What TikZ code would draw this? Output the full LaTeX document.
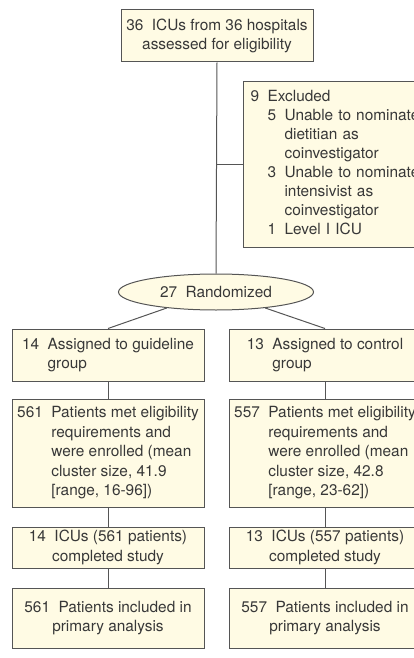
\documentclass[tikz,border=0pt]{standalone}
\usepackage{fontspec}
\setmainfont{TeX Gyre Heros}
\usepackage{xcolor}
\usetikzlibrary{shapes.geometric}
\definecolor{boxfill}{HTML}{FFFBE4}
\definecolor{boxline}{HTML}{555555}
\definecolor{txtgray}{HTML}{383838}
\newcommand{\numgap}{\hspace{0.55em}}

\begin{document}
\begin{tikzpicture}[x=1pt, y=-1pt,
    every node/.style={font=\fontsize{15.4}{19.5}\selectfont, text=txtgray},
    box/.style={draw=boxline, fill=boxfill, line width=1pt, inner sep=0pt, minimum width=192pt},
    link/.style={draw=boxline, line width=1pt}]
  \useasboundingbox (0,0) rectangle (414,658);
  % screening and exclusions
  \node[box, minimum height=52pt] (screen) at (217,36)
    {\begin{tabular}{@{}c@{}}36\numgap ICUs from 36 hospitals\\assessed for eligibility\end{tabular}};
  \node[box, anchor=west, minimum width=190pt, minimum height=165pt, inner xsep=7pt, text width=176pt, align=left,
        font=\fontsize{15.4}{19}\selectfont] (excl) at (243,164.5)
    {\begin{tabular}{@{}l@{\numgap}l@{\numgap}l@{}}
      9 & \multicolumn{2}{@{}l@{}}{Excluded}\\
        & 5 & Unable to nominate\\
        &   & dietitian as\\
        &   & coinvestigator\\
        & 3 & Unable to nominate\\
        &   & intensivist as\\
        &   & coinvestigator\\
        & 1 & Level I ICU
    \end{tabular}};
  \node[ellipse, draw=boxline, fill=boxfill, line width=1pt, inner sep=0pt, minimum width=195pt, minimum height=36pt] (rand) at (216,292) {27\numgap Randomized};
  % guideline arm
  \node[box, minimum height=52pt] (guide) at (108,355)
    {\begin{tabular}{@{}l@{\numgap}l@{}}14 & Assigned to guideline\\ & group\end{tabular}};
  \node[box, minimum height=108pt] (enrolA) at (108,453)
    {\begin{tabular}{@{}l@{\numgap}l@{}}561 & Patients met eligibility\\ & requirements and\\ & were enrolled (mean\\ & cluster size, 41.9\\ & [range, 16-96])\end{tabular}};
  \node[box, minimum height=41pt] (doneA) at (108,547.5)
    {\begin{tabular}{@{}c@{}}14\numgap ICUs (561 patients)\\completed study\end{tabular}};
  \node[box, minimum height=60pt] (anaA) at (108,618)
    {\begin{tabular}{@{}c@{}}561\numgap Patients included in\\primary analysis\end{tabular}};
  % control arm
  \node[box, minimum height=52pt] (ctrl) at (325,355)
    {\begin{tabular}{@{}l@{\numgap}l@{}}13 & Assigned to control\\ & group\end{tabular}};
  \node[box, minimum height=108pt] (enrolB) at (325,453)
    {\begin{tabular}{@{}l@{\numgap}l@{}}557 & Patients met eligibility\\ & requirements and\\ & were enrolled (mean\\ & cluster size, 42.8\\ & [range, 23-62])\end{tabular}};
  \node[box, minimum height=41pt] (doneB) at (325,547.5)
    {\begin{tabular}{@{}c@{}}13\numgap ICUs (557 patients)\\completed study\end{tabular}};
  \node[box, minimum height=60pt] (anaB) at (325,618)
    {\begin{tabular}{@{}c@{}}557\numgap Patients included in\\primary analysis\end{tabular}};
  % connectors
  \coordinate (branch) at (screen.south |- excl.west);
  \draw[link] (screen.south) -- (rand.north);
  \draw[link] (branch) -- (excl.west);
  \draw[link] (rand.198) -- (guide.north);
  \draw[link] (rand.-18) -- (ctrl.north);
  \draw[link] (guide) -- (enrolA);
  \draw[link] (enrolA) -- (doneA);
  \draw[link] (doneA) -- (anaA);
  \draw[link] (ctrl) -- (enrolB);
  \draw[link] (enrolB) -- (doneB);
  \draw[link] (doneB) -- (anaB);
\end{tikzpicture}
\end{document}
